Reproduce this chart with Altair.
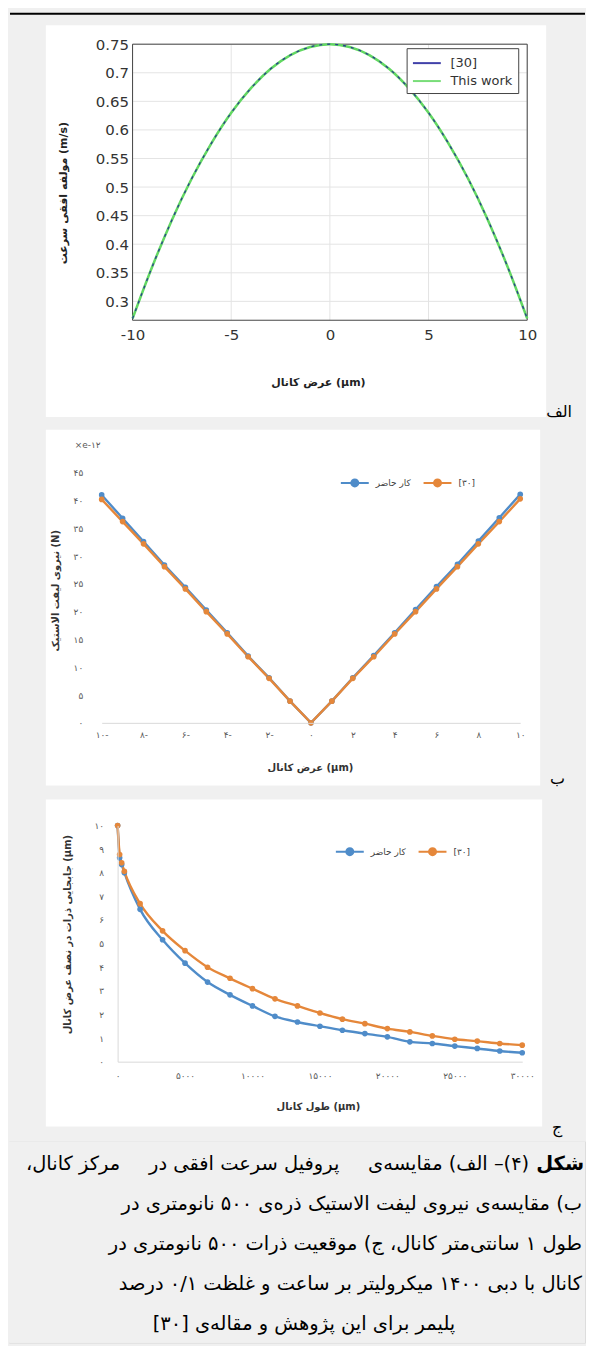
import altair as alt
import pandas as pd

RLM = "\u200f"


def rtl(s):
    return RLM + s + RLM


# ---------------- panel (a) data ----------------
a_x = [-10, -9, -8, -7, -6, -5, -4, -3, -2, -1, 0, 1, 2, 3, 4, 5, 6, 7, 8, 9, 10]
a_ref30 = [0.27, 0.361, 0.443, 0.515, 0.577, 0.63, 0.673, 0.707, 0.731, 0.745, 0.75,
           0.745, 0.731, 0.707, 0.673, 0.63, 0.577, 0.515, 0.443, 0.361, 0.27]
a_this = [0.27, 0.361, 0.443, 0.515, 0.577, 0.63, 0.673, 0.707, 0.731, 0.745, 0.75,
          0.745, 0.731, 0.707, 0.673, 0.63, 0.577, 0.515, 0.443, 0.361, 0.27]
a_series = ["[30]", "This work"]
a_colors = ["#20209a", "#62d862"]
a_xticks = [-10, -5, 0, 5, 10]
a_xlabels = ["-10", "-5", "0", "5", "10"]
a_yticks = [0.3, 0.35, 0.4, 0.45, 0.5, 0.55, 0.6, 0.65, 0.7, 0.75]
a_ylabels = ["0.3", "0.35", "0.4", "0.45", "0.5", "0.55", "0.6", "0.65", "0.7", "0.75"]

# ---------------- panel (b) data ----------------
b_x = [-10, -9, -8, -7, -6, -5, -4, -3, -2, -1, 0, 1, 2, 3, 4, 5, 6, 7, 8, 9, 10]
b_this = [41.0, 36.8, 32.6, 28.4, 24.4, 20.3, 16.2, 12.0, 8.1, 3.9, 0.0,
          3.9, 8.1, 12.1, 16.2, 20.4, 24.5, 28.5, 32.7, 36.9, 41.1]
b_ref30 = [40.2, 36.2, 32.2, 28.1, 24.1, 20.0, 16.0, 11.9, 8.0, 3.9, 0.0,
           3.9, 8.0, 11.9, 16.0, 20.0, 24.1, 28.1, 32.2, 36.2, 40.3]
bc_series = ["کار حاضر", "[۳۰]"]
bc_colors = ["#4f8cc9", "#e5873a"]
b_xticks = [-10, -8, -6, -4, -2, 0, 2, 4, 6, 8, 10]
b_xlabels = ["۱۰-", "۸-", "۶-", "۴-", "۲-", "۰", "۲", "۴", "۶", "۸", "۱۰"]
b_yticks = [0, 5, 10, 15, 20, 25, 30, 35, 40, 45]
b_ylabels = ["۰", "۵", "۱۰", "۱۵", "۲۰", "۲۵", "۳۰", "۳۵", "۴۰", "۴۵"]
b_unit = "×e-۱۲"

# ---------------- panel (c) data ----------------
c_x = [0, 150, 300, 500, 1667, 3333, 5000, 6667, 8333, 10000, 11667, 13333, 15000,
       16667, 18333, 20000, 21667, 23333, 25000, 26667, 28333, 30000]
c_this = [10.0, 8.63, 8.35, 8.0, 6.45, 5.16, 4.17, 3.37, 2.83, 2.36, 1.92, 1.68, 1.50,
          1.33, 1.19, 1.05, 0.84, 0.77, 0.66, 0.56, 0.45, 0.38]
c_ref30 = [10.0, 8.77, 8.42, 8.06, 6.69, 5.54, 4.70, 4.0, 3.53, 3.09, 2.66, 2.36, 2.06,
           1.80, 1.61, 1.40, 1.26, 1.09, 0.95, 0.87, 0.77, 0.70]
c_xticks = [0, 5000, 10000, 15000, 20000, 25000, 30000]
c_xlabels = ["۰", "۵۰۰۰", "۱۰۰۰۰", "۱۵۰۰۰", "۲۰۰۰۰", "۲۵۰۰۰", "۳۰۰۰۰"]
c_yticks = [0, 1, 2, 3, 4, 5, 6, 7, 8, 9, 10]
c_ylabels = ["۰", "۱", "۲", "۳", "۴", "۵", "۶", "۷", "۸", "۹", "۱۰"]

# ---------------- texts ----------------
a_xtitle = "عرض کانال (µm)"
a_ytitle = "مولفه افقی سرعت (m/s)"
b_xtitle = "عرض کانال (µm)"
b_ytitle = "نیروی لیفت الاستیک (N)"
c_xtitle = "طول کانال  (µm)"
c_ytitle = "جابجایی ذرات در نصف عرض کانال (µm)"
panel_tags = ["الف", "ب", "ج"]
cap_bold = "شکل"
cap_line1 = ["(۴)– الف) مقایسه‌ی", "پروفیل سرعت افقی در", "مرکز کانال،"]
cap_rest = [
    "ب) مقایسه‌ی نیروی لیفت الاستیک ذره‌ی ۵۰۰ نانومتری در",
    "طول ۱ سانتی‌متر کانال، ج) موقعیت ذرات ۵۰۰ نانومتری در",
    "کانال با دبی ۱۴۰۰ میکرولیتر بر ساعت و غلظت ۰/۱ درصد",
    "پلیمر برای این پژوهش و مقاله‌ی [۳۰]",
]

GRAY = "#f0f0f0"
FONT = "DejaVu Sans"
FULLW = 578
ONE = pd.DataFrame({"k": [0]})


def lab(vals, labels):
    e = "''"
    for v, l in zip(reversed(vals), reversed(labels)):
        e = f"datum.value == {v} ? '{l}' : " + e
    return e


def rect_px(x1, x2, y1, y2, color):
    return alt.Chart(ONE).mark_rect(color=color).encode(
        x=alt.value(x1), x2=alt.value(x2), y=alt.value(y1), y2=alt.value(y2))


def text_px(x, y, s, **kw):
    return alt.Chart(pd.DataFrame({"t": [s]})).mark_text(font=FONT, **kw).encode(
        x=alt.value(x), y=alt.value(y), text="t:N")


# ================= panel (a) =================
PXA, WA, HA = 124, 396, 277
ax_ax = alt.Axis(values=a_xticks, labelExpr=lab(a_xticks, a_xlabels),
                 title=rtl(a_xtitle), grid=False, ticks=False, domain=False,
                 labelPadding=7, labelFontSize=15, labelColor="#333333",
                 labelFont=FONT, labelFlush=False, labelOverlap=False,
                 titleFont=FONT, titleFontSize=11, titleFontWeight="bold",
                 titleColor="#222222", titleX=310, titleY=62, titleAlign="center",
                 titleBaseline="middle", zindex=1)
ax_ay = alt.Axis(values=a_yticks, labelExpr=lab(a_yticks, a_ylabels),
                 title=rtl(a_ytitle), grid=False, ticks=False, domain=False,
                 offset=-PXA, labelPadding=4, labelFontSize=15,
                 labelColor="#333333", labelFont=FONT, labelFlush=False,
                 labelOverlap=False, titleFont=FONT,
                 titleFontSize=11, titleFontWeight="bold", titleColor="#222222",
                 titleX=-69, titleY=149, titleAngle=270, titleAlign="center",
                 titleBaseline="middle", zindex=1)
sx_a = alt.Scale(domain=[-10, 10], range=[PXA, PXA + WA], nice=False, zero=False)
sy_a = alt.Scale(domain=[0.267, 0.75], nice=False, zero=False)
xa = alt.X("x:Q", scale=sx_a, axis=ax_ax)
ya = alt.Y("v:Q", scale=sy_a, axis=ax_ay)
leg_a = alt.Legend(orient="none", legendX=399, legendY=4, title=None,
                   symbolType="M-1,0H2.23", symbolSize=300, symbolStrokeWidth=2,
                   fillColor="white", strokeColor="#444444", padding=5,
                   labelFont=FONT, labelFontSize=13, labelColor="#333333",
                   rowPadding=1, labelOffset=19, zindex=1)
col_a = alt.Color("s:N", scale=alt.Scale(domain=a_series, range=a_colors), legend=leg_a)

df_a = pd.DataFrame({"x": a_x + a_x, "v": a_ref30 + a_this,
                     "s": [a_series[0]] * len(a_x) + [a_series[1]] * len(a_x)})

panel_a = alt.layer(
    rect_px(0, FULLW, -33, 379, GRAY),
    rect_px(1, FULLW, -31.5, -29.5, "#000000"),
    rect_px(37, 539, -19, 374, "white"),
    alt.Chart(pd.DataFrame({"x": a_xticks})).mark_rule(color="#e4e4e4", strokeWidth=1).encode(x=xa),
    alt.Chart(pd.DataFrame({"v": a_yticks})).mark_rule(color="#e4e4e4", strokeWidth=1).encode(
        y=ya, x=alt.X(datum=-10, scale=sx_a, axis=ax_ax), x2=alt.X2(datum=10)),
    alt.Chart(ONE).mark_rect(fillOpacity=0, stroke="#444444", strokeWidth=1).encode(
        x=alt.X(datum=-10, scale=sx_a, axis=ax_ax), x2=alt.X2(datum=10),
        y=alt.Y(datum=0.267, scale=sy_a, axis=ax_ay), y2=alt.Y2(datum=0.75)),
    alt.Chart(df_a).transform_filter(alt.datum.s == a_series[1]).mark_line(
        strokeWidth=2.5, interpolate="monotone").encode(x=xa, y=ya, color=col_a),
    alt.Chart(df_a).transform_filter(alt.datum.s == a_series[0]).mark_line(
        strokeWidth=1.3, strokeDash=[3, 5], opacity=0.85, interpolate="monotone").encode(
        x=xa, y=ya, color=col_a),
    text_px(565, 374, panel_tags[0], fontSize=16, align="right", baseline="alphabetic", color="#000000"),
).properties(width=PXA + WA, height=HA)


# ================= panel (b) / (c) helpers =================
SYM = "M-1,0H4.6M1.1,0A0.7,0.7,0,1,1,2.5,0A0.7,0.7,0,1,1,1.1,0Z"


def bc_legend(lx, ly):
    return alt.Legend(orient="none", legendX=lx, legendY=ly, direction="horizontal",
                      title=None, symbolType=SYM, symbolSize=100, symbolStrokeWidth=2,
                      labelFont=FONT, labelFontSize=9, labelColor="#404040",
                      columnPadding=8, labelOffset=24, zindex=1)


def bc_axis(vals, labels, title, **kw):
    return alt.Axis(values=vals, labelExpr=lab(vals, labels), title=rtl(title),
                    grid=False, ticks=False, labelFont=FONT, labelFontSize=9,
                    labelColor="#595959", labelFlush=False, labelOverlap=False,
                    titleFont=FONT, titleFontSize=10, titleFontWeight="bold",
                    titleColor="#333333", titleAlign="center", titleBaseline="middle",
                    domainColor="#d9d9d9", domainWidth=1, zindex=1, **kw)


# ================= panel (b) =================
PXB, WB, HB = 93, 420, 251
df_b = pd.DataFrame({"x": b_x + b_x, "v": b_this + b_ref30,
                     "s": [bc_series[0]] * len(b_x) + [bc_series[1]] * len(b_x)})
xb = alt.X("x:Q", scale=alt.Scale(domain=[-10, 10], range=[PXB, PXB + WB], nice=False, zero=False),
           axis=bc_axis(b_xticks, b_xlabels, b_xtitle, labelPadding=8, domain=True,
                        titleX=302, titleY=45))
yb = alt.Y("v:Q", scale=alt.Scale(domain=[0, 45], nice=False),
           axis=bc_axis(b_yticks, b_ylabels, b_ytitle, labelPadding=19, domain=False,
                        offset=-PXB, titleX=-46, titleY=118, titleAngle=270))
leg_b = bc_legend(332, 4)
sb = alt.Stroke("s:N", scale=alt.Scale(domain=bc_series, range=bc_colors), legend=leg_b)
fb = alt.Fill("s:N", scale=alt.Scale(domain=bc_series, range=bc_colors), legend=leg_b)

panel_b = alt.layer(
    rect_px(0, FULLW, -49, 321, GRAY),
    rect_px(37, 533, -43, 314, "white"),
    alt.Chart(df_b).mark_line(strokeWidth=2.4).encode(x=xb, y=yb, stroke=sb),
    alt.Chart(df_b).mark_circle(size=32, opacity=1).encode(x=xb, y=yb, fill=fb),
    text_px(92, -28, b_unit, fontSize=9, align="right", baseline="middle", color="#595959"),
    text_px(543, 312, panel_tags[1], fontSize=16, align="left", baseline="alphabetic", color="#000000"),
).properties(width=PXB + WB, height=HB)


# ================= panel (c) =================
PXC, WC, HC = 109, 406, 237
df_c = pd.DataFrame({"x": c_x + c_x, "v": c_this + c_ref30,
                     "s": [bc_series[0]] * len(c_x) + [bc_series[1]] * len(c_x)})
xc = alt.X("x:Q", scale=alt.Scale(domain=[0, 30000], range=[PXC, PXC + WC], nice=False, zero=False),
           axis=bc_axis(c_xticks, c_xlabels, c_xtitle, labelPadding=10, domain=True,
                        titleX=310, titleY=45))
yc = alt.Y("v:Q", scale=alt.Scale(domain=[0, 10], nice=False),
           axis=bc_axis(c_yticks, c_ylabels, c_ytitle, labelPadding=14, domain=True,
                        offset=-PXC, titleX=-50, titleY=109, titleAngle=270))
leg_c = bc_legend(327, 20)
sc = alt.Stroke("s:N", scale=alt.Scale(domain=bc_series, range=bc_colors), legend=leg_c)
fc = alt.Fill("s:N", scale=alt.Scale(domain=bc_series, range=bc_colors), legend=leg_c)

panel_c = alt.layer(
    rect_px(0, FULLW, -31, 315, GRAY),
    rect_px(37, 535, -26, 302, "white"),
    alt.Chart(df_c).mark_line(strokeWidth=2.4, interpolate="monotone").encode(x=xc, y=yc, stroke=sc),
    alt.Chart(df_c).mark_circle(size=32, opacity=1).encode(x=xc, y=yc, fill=fc),
    text_px(545, 309, panel_tags[2], fontSize=16, align="left", baseline="alphabetic", color="#000000"),
).properties(width=PXC + WC, height=HC)


# ================= caption =================
HCAP = 202
cap_df = pd.DataFrame({"line": [0, 0, 0, 0, 1, 2, 3, 4],
                       "t": [rtl(cap_bold)] + [rtl(s) for s in cap_line1] + [rtl(s) for s in cap_rest],
                       "part": ["bold", "p1", "p2", "p3", "mid", "mid", "mid", "last"]})
ycap = alt.Y("line:Q", scale=alt.Scale(domain=[0, 4], range=[29, 189]), axis=None)


def cap_layer(part, x, align, weight="normal"):
    return alt.Chart(cap_df).transform_filter(alt.datum.part == part).mark_text(
        font=FONT, fontSize=19.5, align=align, baseline="alphabetic", color="#000000",
        fontWeight=weight).encode(x=alt.value(x), y=ycap, text="t:N")


caption = alt.layer(
    rect_px(0, FULLW, 0, HCAP, GRAY),
    cap_layer("bold", 577, "right", "bold"),
    cap_layer("p1", 522, "right"),
    cap_layer("p2", 236, "center"),
    cap_layer("p3", 17, "left"),
    cap_layer("mid", 575, "right"),
    cap_layer("last", 296, "center"),
).properties(width=FULLW, height=HCAP)


chart = alt.vconcat(panel_a, panel_b, panel_c, caption, spacing=0).resolve_scale(
    color="independent", stroke="independent", fill="independent",
    x="independent", y="independent"
).resolve_legend(
    color="independent", stroke="independent", fill="independent"
).properties(
    padding=0, background=GRAY
).configure_view(strokeWidth=0).configure_axis(labelOverlap=False).configure(font=FONT)

chart.save("out.html", embed_options={"renderer": "svg", "actions": False})
